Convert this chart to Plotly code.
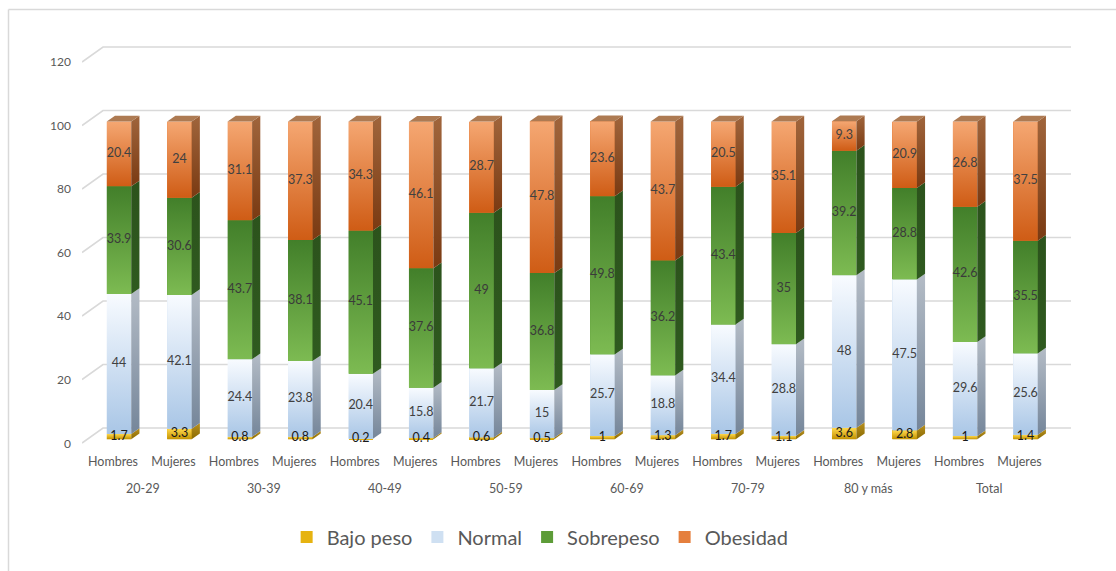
import plotly.graph_objects as go

# Categories
sexo = ["Hombres", "Mujeres"] * 8
grupos = ["20-29", "30-39", "40-49", "50-59", "60-69", "70-79", "80 y más", "Total"]

# Percentages by nutritional status (one value per bar, left to right)
bajo_peso = [1.7, 3.3, 0.8, 0.8, 0.2, 0.4, 0.6, 0.5, 1, 1.3, 1.7, 1.1, 3.6, 2.8, 1, 1.4]
normal = [44, 42.1, 24.4, 23.8, 20.4, 15.8, 21.7, 15, 25.7, 18.8, 34.4, 28.8, 48, 47.5, 29.6, 25.6]
sobrepeso = [33.9, 30.6, 43.7, 38.1, 45.1, 37.6, 49, 36.8, 49.8, 36.2, 43.4, 35, 39.2, 28.8, 42.6, 35.5]
obesidad = [20.4, 24, 31.1, 37.3, 34.3, 46.1, 28.7, 47.8, 23.6, 43.7, 20.5, 35.1, 9.3, 20.9, 26.8, 37.5]

y_ticks = [0, 20, 40, 60, 80, 100, 120]

series = [
    # name, values, mid colour, front gradient (bottom, top), side gradient (bottom, top), label colour
    ("Bajo peso", bajo_peso, "#e6b310", ("#c39200", "#ffd84d"), ("#8a6a00", "#b89020"), "#1a1a1a"),
    ("Normal", normal, "#cfe0f2", ("#a9c6e6", "#f8fbff"), ("#75869a", "#b4bcc6"), "#404040"),
    ("Sobrepeso", sobrepeso, "#5d9c38", ("#7dbb52", "#427f2a"), ("#2f5a1f", "#2c531c"), "#3a3a3a"),
    ("Obesidad", obesidad, "#e57f3d", ("#cf5c15", "#f5a772"), ("#7a3a12", "#a0653c"), "#404040"),
]

# Page geometry (pixels)
FIG_W, FIG_H = 1116, 571
L, R, T, B = 82, 1075, 40, 446
SX = (1025.5 - 119) / 15.0      # px per category
SY = 3.178                      # px per percentage point
X0PX, Y0PX = 119.0, 439.3       # pixel of first bar centre / zero on the bar plane

x_range = [(L - X0PX) / SX, (R - X0PX) / SX]
y_range = [(Y0PX - B) / SY, (Y0PX - T) / SY]

BAR_W = 0.405
DEPTH_X = 8.2 / SX
DEPTH_Y = 5.7 / SY

xs = list(range(len(sexo)))
fig = go.Figure()

# Stacked bars (front faces)
for name, vals, col, _, _, _ in series:
    fig.add_trace(go.Bar(
        x=xs, y=vals, name=name, width=BAR_W,
        marker=dict(color=col, line=dict(width=0)),
        hovertemplate="%{y}<extra>" + name + "</extra>",
    ))

# 3D shading: gradient front, side and top faces
base = [0.0] * len(xs)
for name, vals, col, fgrad, sgrad, _ in series:
    for i, v in enumerate(vals):
        y0 = base[i]
        y1 = y0 + v
        xl, xr = i - BAR_W / 2, i + BAR_W / 2
        fig.add_trace(go.Scatter(
            x=[xl, xr, xr, xl, xl], y=[y0, y0, y1, y1, y0],
            mode="lines", line=dict(width=0), fill="toself",
            fillgradient=dict(type="vertical", colorscale=[[0, fgrad[0]], [1, fgrad[1]]]),
            showlegend=False, hoverinfo="skip",
        ))
        fig.add_trace(go.Scatter(
            x=[xr, xr + DEPTH_X, xr + DEPTH_X, xr, xr],
            y=[y0, y0 + DEPTH_Y, y1 + DEPTH_Y, y1, y0],
            mode="lines", line=dict(width=0), fill="toself",
            fillgradient=dict(type="vertical", colorscale=[[0, sgrad[0]], [1, sgrad[1]]]),
            showlegend=False, hoverinfo="skip",
        ))
        base[i] = y1
tops = base[:]

for i, t in enumerate(tops):
    xl, xr = i - BAR_W / 2, i + BAR_W / 2
    fig.add_trace(go.Scatter(
        x=[xl, xl + DEPTH_X, xr + DEPTH_X, xr, xl],
        y=[t, t + DEPTH_Y, t + DEPTH_Y, t, t],
        mode="lines", line=dict(width=0), fill="toself",
        fillcolor="#ad7a52", showlegend=False, hoverinfo="skip",
    ))

# Value labels centred in each segment
base = [0.0] * len(xs)
for name, vals, col, _, _, lcol in series:
    mids = [base[i] + v / 2 for i, v in enumerate(vals)]
    fig.add_trace(go.Scatter(
        x=xs, y=mids, mode="text", text=[f"{v:g}" for v in vals],
        textfont=dict(family="Lato, sans-serif", size=12.5, color=lcol),
        showlegend=False, hoverinfo="skip",
    ))
    base = [base[i] + v for i, v in enumerate(vals)]

# Walls: perspective gridlines
shapes = []
grid_col = "#d9d9d9"
xf, xb, xe = (82 - X0PX) / SX, (103 - X0PX) / SX, (1071 - X0PX) / SX
for v in y_ticks:
    yf = (Y0PX - 443 + 3.175 * v) / SY
    yb = (Y0PX - 428 + 3.175 * v) / SY
    shapes.append(dict(type="path", xref="x", yref="y", layer="below",
                       path=f"M{xf},{yf} L{xb},{yb} L{xe},{yb}",
                       line=dict(color=grid_col, width=1.6)))

# Outer chart frame (left and top edges)
W, H = R - L, B - T
def px_x(p): return (p - L) / W
def px_y(p): return (B - p) / H
shapes.append(dict(type="line", xref="paper", yref="paper",
                   x0=px_x(8.5), x1=px_x(8.5), y0=px_y(9.5), y1=px_y(575),
                   line=dict(color="#d9d9d9", width=1.5)))
shapes.append(dict(type="line", xref="paper", yref="paper",
                   x0=px_x(8.5), x1=px_x(1120), y0=px_y(9.5), y1=px_y(9.5),
                   line=dict(color="#d9d9d9", width=1.5)))

# Age group labels under each pair of bars
annotations = []
for g, name in enumerate(grupos):
    annotations.append(dict(
        x=2 * g + 0.5, y=0, xref="x", yref="paper", yanchor="middle",
        xshift=-6, yshift=-(488 - B), text=name, showarrow=False,
        font=dict(family="Lato, sans-serif", size=12.5, color="#595959"),
    ))

fig.update_layout(
    width=FIG_W, height=FIG_H,
    margin=dict(l=L, r=FIG_W - R, t=T, b=FIG_H - B),
    barmode="stack", bargap=0,
    paper_bgcolor="white", plot_bgcolor="white",
    font=dict(family="Lato, sans-serif", color="#595959"),
    xaxis=dict(range=x_range, tickmode="array", tickvals=xs, ticktext=sexo,
               showgrid=False, zeroline=False, showline=False, ticks="",
               ticklabelshift=-6, ticklabelstandoff=6,
               tickfont=dict(size=12.5, color="#595959")),
    yaxis=dict(range=y_range, tickmode="array", tickvals=y_ticks,
               showgrid=False, zeroline=False, showline=False, ticks="",
               ticklabelshift=4, ticklabelstandoff=10,
               tickfont=dict(size=12, color="#595959")),
    legend=dict(orientation="h", xref="container", yref="container",
                x=0.484, xanchor="center", y=1 - 537 / FIG_H, yanchor="middle",
                font=dict(size=20, color="#595959"), itemwidth=30,
                traceorder="normal"),
    shapes=shapes, annotations=annotations,
    showlegend=True,
)

fig.write_html("out.html")
